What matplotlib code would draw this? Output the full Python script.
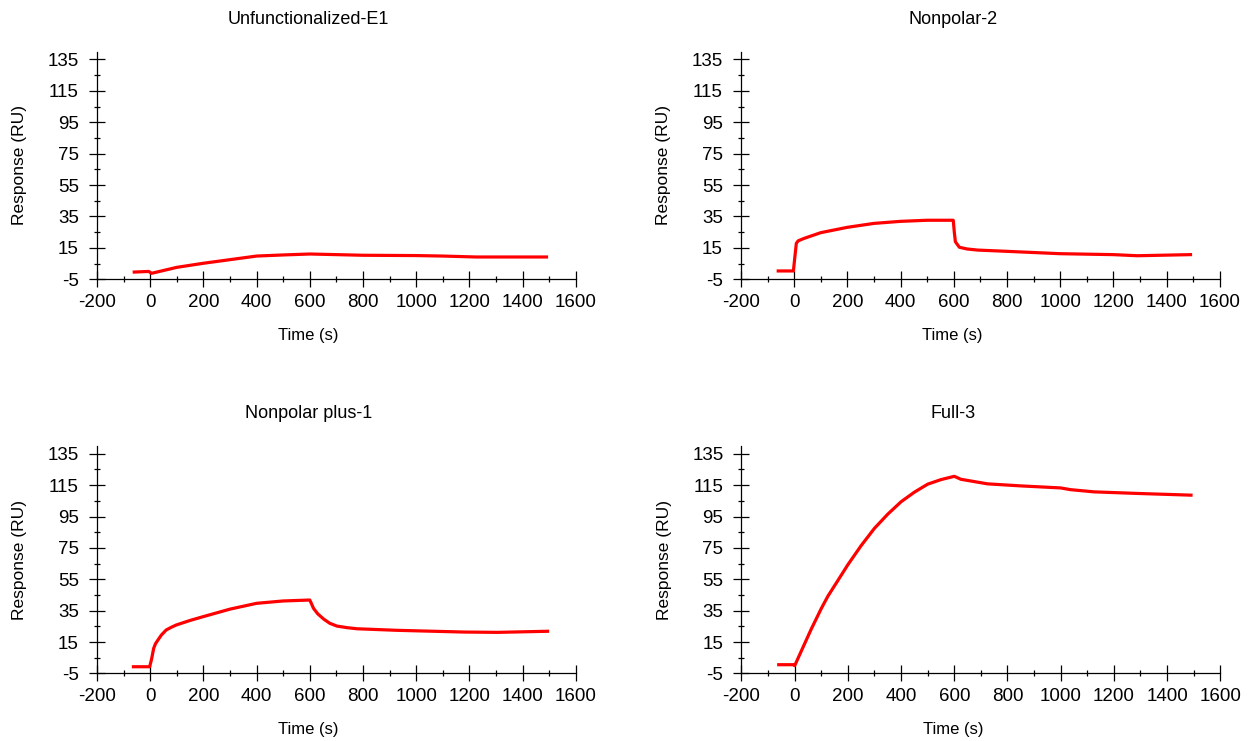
import numpy as np
import matplotlib
matplotlib.use('Agg')
import matplotlib.pyplot as plt

plt.rcParams['font.family'] = ['Liberation Sans', 'DejaVu Sans']
plt.rcParams['axes.unicode_minus'] = False

titles = ['Unfunctionalized-E1', 'Nonpolar-2', 'Nonpolar plus-1', 'Full-3']

# time (s) / response (RU)
t_e1 = [-60, -5, 5, 100, 200, 300, 400, 500, 600, 700, 800, 1000, 1100, 1225, 1490]
r_e1 = [-0.4, 0.0, -1.2, 2.6, 5.2, 7.5, 9.8, 10.5, 11.1, 10.7, 10.3, 10.1, 9.8, 9.2, 9.2]

t_np2 = [-60, -3, 3, 8, 15, 38, 100, 200, 300, 400, 500, 598, 602, 606, 621, 650, 690, 800, 1000, 1200, 1290, 1490]
r_np2 = [0.3, 0.3, 10.0, 17.9, 19.5, 21.1, 24.7, 28.1, 30.6, 31.9, 32.6, 32.6, 25.0, 18.9, 15.4, 14.3, 13.6, 12.8, 11.3, 10.7, 10.0, 10.7]

t_npp1 = [-63, -2, 5, 13, 20, 29, 42, 60, 80, 98, 150, 199, 300, 400, 500, 600, 605, 614, 630, 652, 675, 702, 740, 777, 928, 1180, 1306, 1494]
r_npp1 = [-0.7, -0.7, 4.0, 11.0, 14.0, 16.3, 19.5, 22.7, 24.5, 25.9, 28.8, 31.2, 36.0, 39.7, 41.2, 41.8, 40.0, 36.5, 33.0, 29.7, 27.0, 25.2, 24.2, 23.5, 22.5, 21.4, 21.2, 21.9]

t_f3 = [-60, -5, 0, 62, 100, 125, 160, 200, 250, 300, 350, 400, 450, 500, 550, 600, 625, 725, 850, 1000, 1037, 1125, 1287, 1490]
r_f3 = [0.6, 0.6, 0.0, 23.2, 36.4, 44.3, 53.6, 64.3, 76.5, 87.5, 96.5, 104.4, 110.5, 115.6, 118.5, 120.6, 118.7, 115.8, 114.5, 113.2, 112.1, 110.7, 109.7, 108.6]

curves = [(t_e1, r_e1), (t_np2, r_np2), (t_npp1, r_npp1), (t_f3, r_f3)]

fig = plt.figure(figsize=(12.5, 7.41), dpi=100)
positions = [
    [0.0776, 0.6231, 0.383, 0.3072],
    [0.5928, 0.6231, 0.383, 0.3072],
    [0.0776, 0.0911, 0.383, 0.3072],
    [0.5932, 0.0911, 0.383, 0.3072],
]

for pos, title, (t, r) in zip(positions, titles, curves):
    ax = fig.add_axes(pos)
    ax.plot(t, r, color='red', linewidth=2.3)
    ax.set_xlim(-200, 1600)
    ax.set_ylim(-5, 140)
    ax.set_xticks(np.arange(-200, 1601, 200))
    ax.set_xticks(np.arange(-100, 1600, 200), minor=True)
    ax.set_yticks(np.arange(-5, 136, 20))
    ax.set_yticks(np.arange(5, 136, 20), minor=True)
    ax.spines['top'].set_visible(False)
    ax.spines['right'].set_visible(False)
    for s in ['left', 'bottom']:
        ax.spines[s].set_linewidth(0.9)
    ax.tick_params(which='major', direction='inout', length=11, width=0.9,
                   labelsize=13.5)
    ax.tick_params(axis='x', which='major', pad=5)
    ax.tick_params(axis='y', which='major', pad=7.5)
    ax.tick_params(which='minor', direction='inout', length=5, width=0.9)
    ax.set_title(title, x=0.442, pad=20, fontsize=13)
    ax.set_ylabel('Response (RU)', fontsize=12.5)
    ax.yaxis.set_label_coords(-0.161, 0.5)
    ax.yaxis.label.set_va('center')
    ax.set_xlabel('Time (s)', fontsize=12)
    ax.xaxis.set_label_coords(0.442, -0.245)
    ax.xaxis.label.set_va('center')

plt.savefig('out.png', dpi=100)
